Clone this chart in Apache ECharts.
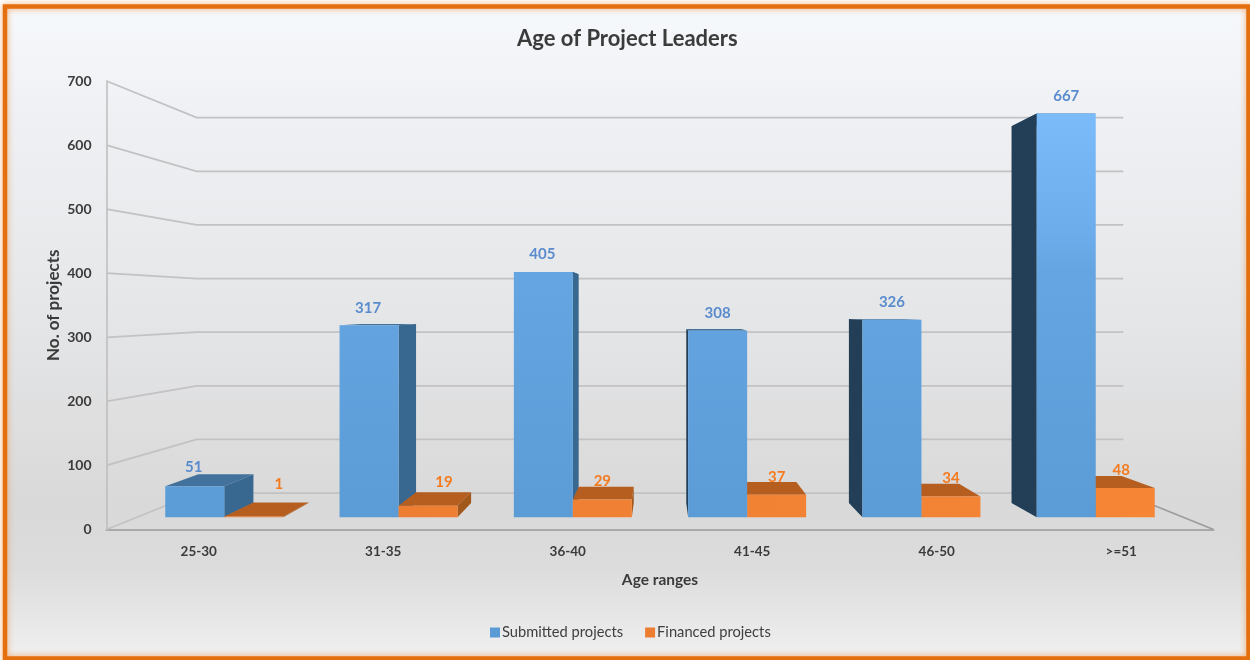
<!DOCTYPE html>
<html><head><meta charset="utf-8">
<style>html,body{margin:0;padding:0;background:#fff}#c{width:1250px;height:660px}</style>
<script src="https://cdn.jsdelivr.net/npm/echarts@6/dist/echarts.min.js"></script>
</head><body><div id="c"></div>
<script>
const categories = ['25-30','31-35','36-40','41-45','46-50','>=51'];
const submitted = [51,317,405,308,326,667];
const financed = [1,19,29,37,34,48];
const yTicks = [0,100,200,300,400,500,600,700];

const FONT = 'Lato';
const VP = [660, 306];
const K_WALL = 0.837, K_FRONT = 0.9447, K_BACK = 0.8815, BAR_FRAC = 0.3385;
const proj = (p, k) => [VP[0] + (p[0]-VP[0])*k, VP[1] + (p[1]-VP[1])*k];

const blueFront = {type:'linear',global:true,x:0,y:114,x2:0,y2:517,colorStops:[
  {offset:0,color:'#7cbbf9'},{offset:0.29,color:'#6dadec'},{offset:0.39,color:'#65a5e1'},{offset:1,color:'#5b9bd6'}]};
const orangeFront = {type:'linear',global:true,x:340,y:0,x2:1155,y2:0,colorStops:[
  {offset:0,color:'#ed7d31'},{offset:1,color:'#f68636'}]};
const palettes = [
  {front:blueFront, top:'#42729c', right:'#386890', left:'#223f57', label:'#5a8ccd'},
  {front:orangeFront, top:'#b65e1f', right:'#a2571b', left:'#a2571b', label:'#f47b20'}
];
// manual placement of a few data labels, as in the source chart
const labelShift = [
  [[-1,-19],[-1,-17.5],[-1,-17.5],[0,-17.5],[0,-17.5],[0,-17.5]],
  [[25,-32],[16,-23],[0,-18],[0,-18],[0,-18],[-4,-18]]
];

function barRenderer(seriesPos) {
  return function (params, api) {
    const i = api.value(0), v = api.value(1);
    const c = api.coord([i, 0]), t = api.coord([i, v]);
    const w = api.size([1, 0])[0] * BAR_FRAC;
    const xa = seriesPos === 0 ? c[0]-w : c[0], xb = xa + w;
    const pal = palettes[seriesPos];
    const fTL = proj([xa,t[1]],K_FRONT), fTR = proj([xb,t[1]],K_FRONT),
          fBL = proj([xa,c[1]],K_FRONT), fBR = proj([xb,c[1]],K_FRONT),
          bTL = proj([xa,t[1]],K_BACK),  bTR = proj([xb,t[1]],K_BACK),
          bBL = proj([xa,c[1]],K_BACK),  bBR = proj([xb,c[1]],K_BACK);
    const mid = (fTL[0]+fTR[0])/2;
    const base = Math.round(1000 - Math.abs(mid-VP[0])) * 4;
    const poly = (pts, fill, k) => ({type:'polygon', z2: base+k, shape:{points:pts}, style:{fill:fill}});
    const ch = [poly([fTL,fTR,bTR,bTL], pal.top, 0)];
    if (xb < VP[0]) ch.push(poly([fTR,bTR,bBR,fBR], pal.right, 1));
    if (xa > VP[0]) ch.push(poly([fTL,bTL,bBL,fBL], pal.left, 1));
    ch.push(poly([fTL,fTR,fBR,fBL], pal.front, 2));
    const s = labelShift[seriesPos][i];
    ch.push({type:'text', z2: 20000, style:{text:String(v), x:mid+s[0], y:fTL[1]+s[1],
      align:'center', verticalAlign:'middle', fill:pal.label, font:'bold 15px '+FONT}});
    return {type:'group', children:ch};
  };
}

function wallRenderer(params, api) {
  const v = api.value(0), cs = params.coordSys;
  const y = api.coord([0, v])[1];
  const L = [cs.x, y], R = [cs.x+cs.width, y];
  const bL = proj(L, K_WALL), bR = proj(R, K_WALL);
  const ch = [{type:'polyline', z2:1, shape:{points:[L,bL,bR]},
    style:{fill:null, stroke:'#c2c2c4', lineWidth:1.8}}];
  if (v === 0) ch.push({type:'line', z2:1, shape:{x1:R[0],y1:R[1],x2:bR[0],y2:bR[1]},
    style:{stroke:'#9c9c9c', lineWidth:1.6}});
  return {type:'group', children:ch};
}

const chart = echarts.init(document.getElementById('c'), null, {width:1250, height:660});
chart.setOption({
  animation:false,
  backgroundColor:'#ffffff',
  graphic:[
    {type:'rect', z:-3, silent:true, shape:{x:5,y:6,width:1244,height:653},
     style:{fill:{type:'linear',x:0,y:0,x2:0,y2:1,colorStops:[
       {offset:0,color:'#f6f9fc'},{offset:0.15,color:'#f0f1f4'},{offset:0.45,color:'#e6e7e9'},
       {offset:0.76,color:'#d9d9d9'},{offset:0.86,color:'#dcdcdc'},{offset:1,color:'#f0f0f0'}]}}},
    {type:'rect', z:-2, silent:true, shape:{x:5,y:6.5,width:1243.5,height:652},
     style:{fill:null, stroke:'#e36f0e', lineWidth:4.5, shadowBlur:6, shadowColor:'rgba(240,140,60,0.75)'}}
  ],
  title:{text:'Age of Project Leaders', left:512, top:23,
    textStyle:{fontFamily:FONT, fontWeight:'bold', fontSize:22, color:'#3b3b3b'}},
  legend:{left:485, top:620, itemGap:22, itemWidth:10, itemHeight:10,
    icon:'rect', data:['Submitted projects','Financed projects'],
    textStyle:{fontFamily:FONT, fontSize:14.7, color:'#404040', padding:[0,0,0,-3]}},
  grid:{left:106.5, width:1107, top:81, height:448.5},
  xAxis:{type:'category', data:categories, name:'Age ranges', nameLocation:'middle', nameGap:42, nameMoveOverlap:false,
    nameTextStyle:{fontFamily:FONT, fontWeight:'bold', fontSize:15.5, color:'#3b3b3b'},
    axisTick:{show:false}, axisLine:{lineStyle:{color:'#a9a9a9', width:2}},
    axisLabel:{margin:15, fontFamily:FONT, fontWeight:'bold', fontSize:13.5, color:'#3b3b3b', interval:0},
    splitLine:{show:false}},
  yAxis:{type:'value', min:0, max:700, interval:100, name:'No. of projects', nameLocation:'middle', nameGap:44, nameMoveOverlap:false,
    nameTextStyle:{fontFamily:FONT, fontWeight:'bold', fontSize:17, color:'#3b3b3b'},
    axisTick:{show:false}, axisLine:{show:true, lineStyle:{color:'#bdbdbd', width:1.5}},
    axisLabel:{margin:15, fontFamily:FONT, fontWeight:'bold', fontSize:14, color:'#3b3b3b', padding:[3,0,0,0]},
    splitLine:{show:false}},
  series:[
    {name:'walls', type:'custom', renderItem:wallRenderer, silent:true,
     data:yTicks.map(v=>[v]), encode:{y:0}},
    {name:'Submitted projects', type:'custom', renderItem:barRenderer(0), itemStyle:{color:'#5b9bd5'},
     data:submitted.map((v,i)=>[i,v]), encode:{x:0,y:1}},
    {name:'Financed projects', type:'custom', renderItem:barRenderer(1), itemStyle:{color:'#ed7d31'},
     data:financed.map((v,i)=>[i,v]), encode:{x:0,y:1}}
  ]
});
</script></body></html>
